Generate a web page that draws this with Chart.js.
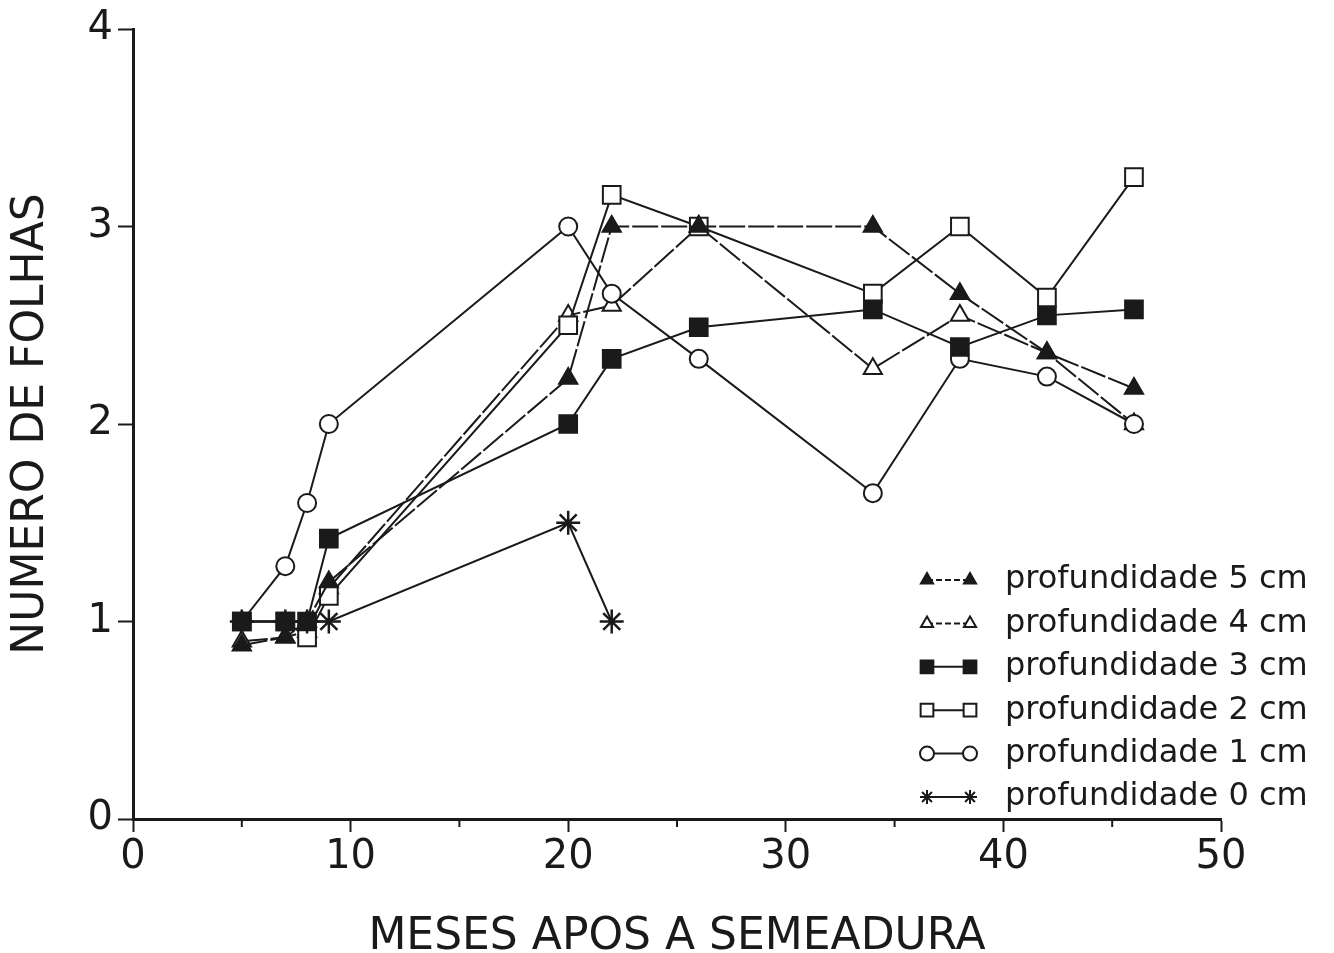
<!DOCTYPE html>
<html>
<head>
<meta charset="utf-8">
<script src="https://cdn.jsdelivr.net/npm/chart.js@4/dist/chart.umd.min.js"></script>
<style>
  html, body { margin: 0; padding: 0; background: #fff; }
  #wrap { width: 1334px; height: 953px; }
</style>
</head>
<body>
<div id="wrap"><canvas id="folhasChart" width="1334" height="953"></canvas></div>
<script>
// meses apos a semeadura
const months = [5, 7, 8, 9, 20, 22, 26, 34, 38, 42, 46];

// numero de folhas por profundidade (null = sem leitura)
const prof5 = [0.88, 0.92, 1.0, 1.2, 2.23, 3.0, 3.0, 3.0, 2.66, 2.36, 2.18];
const prof4 = [0.9, 0.92, 0.95, 1.17, 2.55, 2.6, 3.0, 2.28, 2.55, 2.36, 2.0];
const prof3 = [1.0, 1.0, 1.0, 1.42, 2.0, 2.33, 2.49, 2.58, 2.39, 2.55, 2.58];
const prof2 = [1.0, 1.0, 0.92, 1.13, 2.5, 3.16, 3.0, 2.66, 3.0, 2.64, 3.25];
const prof1 = [1.0, 1.28, 1.6, 2.0, 3.0, 2.66, 2.33, 1.65, 2.33, 2.24, 2.0];
const prof0 = [1.0, 1.0, 1.0, 1.0, 1.5, 1.0, null, null, null, null, null];

const seriesNames = [
  "profundidade 5 cm",
  "profundidade 4 cm",
  "profundidade 3 cm",
  "profundidade 2 cm",
  "profundidade 1 cm",
  "profundidade 0 cm"
];

const xTicks = [0, 10, 20, 30, 40, 50];
const yTicks = [0, 1, 2, 3, 4];

const ink = "#1a1a1a";
const font = "'DejaVu Sans', sans-serif";

function pts(vals) {
  return months.map((m, i) => ({ x: m, y: vals[i] })).filter(p => p.y !== null);
}

function makeSet(label, vals, style, filled, radius, dashed) {
  return {
    label: label,
    data: pts(vals),
    borderColor: ink,
    borderWidth: 2,
    borderDash: dashed ? [26, 3] : [],
    pointStyle: style,
    pointRadius: radius,
    pointHoverRadius: radius,
    pointBorderWidth: style === "star" ? 2.5 : 2,
    pointBorderColor: ink,
    pointBackgroundColor: filled ? ink : "#fff",
    tension: 0,
    fill: false
  };
}

// first dataset is drawn on top
const datasets = [
  makeSet(seriesNames[2], prof3, "rect", true, 12.5, false),
  makeSet(seriesNames[0], prof5, "triangle", true, 10.5, true),
  makeSet(seriesNames[5], prof0, "star", false, 12, false),
  makeSet(seriesNames[4], prof1, "circle", false, 9, false),
  makeSet(seriesNames[3], prof2, "rect", false, 12.5, false),
  makeSet(seriesNames[1], prof4, "triangle", false, 10.5, true)
];

// short ticks at 5, 15, 25 ...
const minorTicks = {
  id: "minorTicks",
  afterDraw(chart) {
    const c = chart.ctx, xs = chart.scales.x, b = chart.chartArea.bottom;
    c.save();
    c.strokeStyle = ink;
    c.lineWidth = 2;
    for (let v = 5; v < 50; v += 10) {
      const px = xs.getPixelForValue(v);
      c.beginPath();
      c.moveTo(px, b);
      c.lineTo(px, b + 8);
      c.stroke();
    }
    c.restore();
  }
};

// legend inside the plot: marker - line - marker, then text
const innerLegend = {
  id: "innerLegend",
  afterDraw(chart) {
    const c = chart.ctx, a = chart.chartArea;
    c.save();
    c.font = "32px " + font;
    c.textBaseline = "middle";
    seriesNames.forEach((name, row) => {
      const ds = chart.data.datasets.find(d => d.label === name);
      const y = a.bottom - 239 + row * 43.4;
      const x1 = a.right - 294, x2 = a.right - 251;
      c.strokeStyle = ink;
      c.lineWidth = 2;
      c.setLineDash(ds.borderDash.length ? [6, 3] : []);
      c.beginPath();
      c.moveTo(x1, y);
      c.lineTo(x2, y);
      c.stroke();
      c.setLineDash([]);
      const opts = {
        pointStyle: ds.pointStyle,
        radius: ds.pointStyle === "rect" ? 9 : 7,
        borderWidth: 2,
        rotation: 0
      };
      [x1, x2].forEach(px => {
        c.fillStyle = ds.pointBackgroundColor;
        c.strokeStyle = ink;
        c.lineWidth = 2;
        Chart.helpers.drawPoint(c, opts, px, y);
      });
      c.fillStyle = ink;
      c.fillText(name, a.right - 216, y);
    });
    c.restore();
  }
};

new Chart(document.getElementById("folhasChart"), {
  type: "line",
  data: { datasets: datasets },
  plugins: [minorTicks, innerLegend],
  options: {
    responsive: false,
    animation: false,
    layout: { padding: { top: 24, right: 113, left: 0, bottom: 0 } },
    plugins: {
      legend: { display: false },
      tooltip: { enabled: false }
    },
    scales: {
      x: {
        type: "linear",
        min: 0,
        max: 50,
        afterBuildTicks(scale) {
          scale.ticks = [0, 5, 10, 15, 20, 25, 30, 35, 40, 45, 50].map(v => ({ value: v }));
        },
        afterFit(scale) { scale.height = 134; },
        border: { display: true, color: ink, width: 3 },
        grid: {
          drawOnChartArea: false,
          drawTicks: true,
          tickLength: 13,
          tickWidth: 2,
          tickColor: ctx => (ctx.tick && ctx.tick.value % 10 === 0) ? ink : "rgba(0,0,0,0)"
        },
        ticks: {
          color: ink,
          padding: 2,
          maxRotation: 0,
          autoSkip: false,
          font: { family: font, size: 40 },
          callback: v => xTicks.includes(v) ? String(v) : ""
        },
        title: {
          display: true,
          text: "MESES APOS A SEMEADURA",
          color: ink,
          font: { family: font, size: 44, lineHeight: 0.7 },
          padding: { top: 0, bottom: 0 }
        }
      },
      y: {
        min: 0,
        max: 4,
        afterBuildTicks(scale) {
          scale.ticks = yTicks.map(v => ({ value: v }));
        },
        afterFit(scale) { scale.width = 133; },
        border: { display: true, color: ink, width: 3 },
        grid: {
          drawOnChartArea: false,
          drawTicks: true,
          tickLength: 15,
          tickWidth: 2,
          tickColor: ink
        },
        ticks: {
          color: ink,
          padding: 5,
          font: { family: font, size: 40 }
        },
        title: {
          display: true,
          text: "NUMERO DE FOLHAS",
          color: ink,
          font: { family: font, size: 44, lineHeight: 1.2 },
          padding: { top: 5, bottom: 0 }
        }
      }
    }
  }
});
</script>
</body>
</html>
